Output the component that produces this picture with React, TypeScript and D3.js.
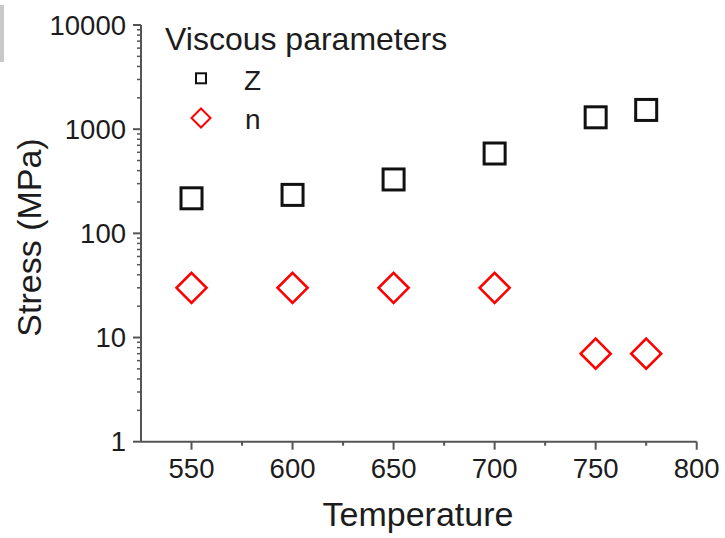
import React from "react";
import * as d3 from "d3";

const temperatures = [550, 600, 650, 700, 750, 775];
const zValues = [217, 234, 329, 584, 1300, 1530];
const nValues = [30, 30, 30, 30, 7, 7];
const xMajorTicks = [550, 600, 650, 700, 750, 800];
const xMinorTicks = [575, 625, 675, 725, 775];
const yMajorTicks = [1, 10, 100, 1000, 10000];
const legendTitle = "Viscous parameters";
const seriesNames = ["Z", "n"];
const xTitle = "Temperature";
const yTitle = "Stress (MPa)";

const W = 725;
const H = 538;
const FONT = "'Liberation Sans', Arial, sans-serif";
const TEXT = "#1c1c1c";
const AXIS = "#555";

export default function App() {
  const x = d3.scaleLinear().domain([525, 800]).range([141, 696.7]);
  const y = d3.scaleLog().domain([1, 10000]).range([441.7, 25]);
  const x0 = x(525);
  const y0 = y(1);

  const yMinor: number[] = [];
  for (let d = 1; d < 10000; d *= 10) {
    for (let k = 2; k <= 9; k++) yMinor.push(d * k);
  }

  const sq = 21;
  const dia = 15;
  const diamondPath = (cx: number, cy: number, r: number) =>
    `M${cx},${cy - r}L${cx + r},${cy}L${cx},${cy + r}L${cx - r},${cy}Z`;

  return (
    <svg
      width={W}
      height={H}
      style={{ position: "absolute", left: 0, top: 0, background: "#fff" }}
      fontFamily={FONT}
    >
      <rect x={0} y={5} width={4} height={57} fill="#c8c8c8" />

      {/* axes */}
      <line x1={x0} y1={y(10000)} x2={x0} y2={y0} stroke={AXIS} strokeWidth={2} />
      <line x1={x0} y1={y0} x2={x(800)} y2={y0} stroke={AXIS} strokeWidth={2} />

      {xMajorTicks.map((t) => (
        <g key={"xm" + t}>
          <line x1={x(t)} x2={x(t)} y1={y0} y2={y0 + 8} stroke={AXIS} strokeWidth={2} />
          <text x={x(t)} y={478} textAnchor="middle" fontSize={27.5} fill={TEXT}>
            {t}
          </text>
        </g>
      ))}
      {xMinorTicks.map((t) => (
        <line key={"xn" + t} x1={x(t)} x2={x(t)} y1={y0} y2={y0 + 4} stroke={AXIS} strokeWidth={2} />
      ))}

      {yMajorTicks.map((t) => (
        <g key={"ym" + t}>
          <line x1={x0 - 8} x2={x0} y1={y(t)} y2={y(t)} stroke={AXIS} strokeWidth={2} />
          <text x={126} y={y(t) + 9.5} textAnchor="end" fontSize={27.5} fill={TEXT}>
            {t}
          </text>
        </g>
      ))}
      {yMinor.map((t) => (
        <line key={"yn" + t} x1={x0 - 4} x2={x0} y1={y(t)} y2={y(t)} stroke={AXIS} strokeWidth={1.5} />
      ))}

      {/* axis titles */}
      <text x={418} y={526} textAnchor="middle" fontSize={34} fill={TEXT}>
        {xTitle}
      </text>
      <text
        transform={`translate(41,${237.5}) rotate(-90)`}
        textAnchor="middle"
        fontSize={34}
        fill={TEXT}
      >
        {yTitle}
      </text>

      {/* data */}
      {temperatures.map((t, i) => (
        <rect
          key={"z" + t}
          x={x(t) - sq / 2}
          y={y(zValues[i]) - sq / 2}
          width={sq}
          height={sq}
          fill="none"
          stroke="#111"
          strokeWidth={3}
        />
      ))}
      {temperatures.map((t, i) => (
        <path
          key={"n" + t}
          d={diamondPath(x(t), y(nValues[i]), dia)}
          fill="none"
          stroke="#ff0000"
          strokeWidth={2.6}
        />
      ))}

      {/* legend */}
      <text x={165} y={50} fontSize={32} fill={TEXT}>
        {legendTitle}
      </text>
      <rect x={196} y={73.3} width={10} height={10} fill="none" stroke="#111" strokeWidth={2} />
      <text x={244} y={90} fontSize={28} fill={TEXT}>
        {seriesNames[0]}
      </text>
      <path d={diamondPath(201, 118, 9.5)} fill="none" stroke="#ff0000" strokeWidth={2} />
      <text x={245} y={128.5} fontSize={28} fill={TEXT}>
        {seriesNames[1]}
      </text>
    </svg>
  );
}
